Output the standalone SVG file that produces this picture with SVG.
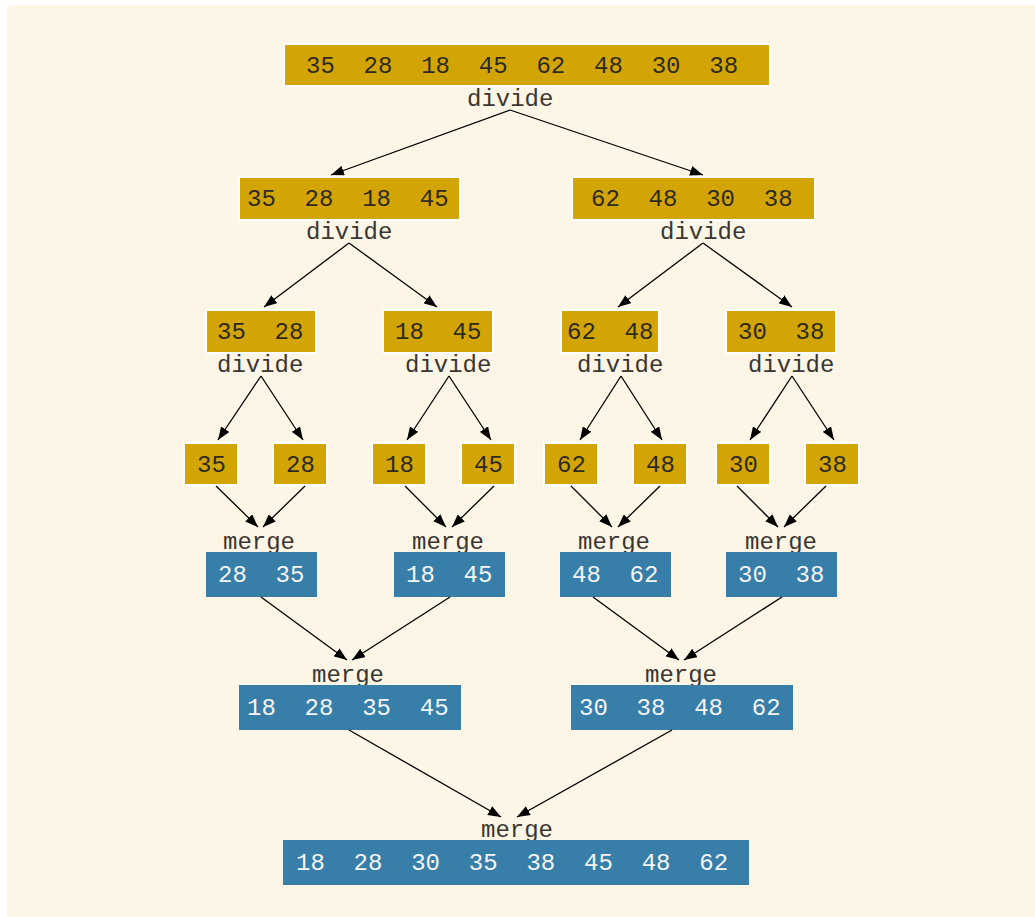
<svg xmlns="http://www.w3.org/2000/svg" width="1035" height="917" viewBox="0 0 1035 917" xml:space="preserve">
<style>
.bg{fill:#FDF5E5}
.g{fill:#D2A505;stroke:#FFFFFF;stroke-width:2}
.b{fill:#377EA9}
.t{font-family:"Liberation Mono","Courier New",monospace;font-size:24px;white-space:pre}
.tg{fill:#2E2A22}
.tb{fill:#F4F4F4}
.lb{fill:#3A3631}
.c line{stroke:#000;stroke-width:1.3;marker-end:url(#ah)}
</style>
<defs>
<marker id="ah" markerUnits="userSpaceOnUse" markerWidth="14" markerHeight="10" refX="13" refY="5" orient="auto">
<path d="M0,0 L13,5 L0,10 Z" fill="#000"/>
</marker>
</defs>
<rect x="0" y="0" width="1035" height="917" fill="#FFFFFF"/>
<rect class="bg" x="7" y="5" width="1028" height="912"/>

<g id="n0"><rect class="g" x="284" y="44" width="486" height="42"/><text class="t tg" x="306" y="73">35  28  18  45  62  48  30  38</text><text class="t lb" x="467" y="106">divide</text></g>

<g id="n1a"><rect class="g" x="239" y="177" width="221" height="43"/><text class="t tg" x="247" y="206">35  28  18  45</text><text class="t lb" x="306" y="239">divide</text></g>
<g id="n1b"><rect class="g" x="572" y="177" width="243" height="43"/><text class="t tg" x="591" y="206">62  48  30  38</text><text class="t lb" x="660" y="239">divide</text></g>

<g id="n2a"><rect class="g" x="206" y="310" width="110" height="43"/><text class="t tg" x="217" y="339">35  28</text><text class="t lb" x="217" y="372">divide</text></g>
<g id="n2b"><rect class="g" x="383" y="310" width="110" height="43"/><text class="t tg" x="395" y="339">18  45</text><text class="t lb" x="405" y="372">divide</text></g>
<g id="n2c"><rect class="g" x="561" y="310" width="98" height="43"/><text class="t tg" x="567" y="339">62  48</text><text class="t lb" x="577" y="372">divide</text></g>
<g id="n2d"><rect class="g" x="726" y="310" width="110" height="43"/><text class="t tg" x="738" y="339">30  38</text><text class="t lb" x="748" y="372">divide</text></g>

<g id="n3a"><rect class="g" x="184" y="443" width="54" height="42"/><text class="t tg" x="197" y="472">35</text></g>
<g id="n3b"><rect class="g" x="273" y="443" width="54" height="42"/><text class="t tg" x="286" y="472">28</text></g>
<g id="n3c"><rect class="g" x="372" y="443" width="54" height="42"/><text class="t tg" x="385" y="472">18</text></g>
<g id="n3d"><rect class="g" x="461" y="443" width="54" height="42"/><text class="t tg" x="474" y="472">45</text></g>
<g id="n3e"><rect class="g" x="544" y="443" width="54" height="42"/><text class="t tg" x="557" y="472">62</text></g>
<g id="n3f"><rect class="g" x="633" y="443" width="54" height="42"/><text class="t tg" x="646" y="472">48</text></g>
<g id="n3g"><rect class="g" x="716" y="443" width="54" height="42"/><text class="t tg" x="729" y="472">30</text></g>
<g id="n3h"><rect class="g" x="805" y="443" width="54" height="42"/><text class="t tg" x="818" y="472">38</text></g>

<g id="m1a"><text class="t lb" x="223" y="549">merge</text><rect class="b" x="206" y="552" width="111" height="45"/><text class="t tb" x="218" y="582">28  35</text></g>
<g id="m1b"><text class="t lb" x="412" y="549">merge</text><rect class="b" x="394" y="552" width="111" height="45"/><text class="t tb" x="406" y="582">18  45</text></g>
<g id="m1c"><text class="t lb" x="578" y="549">merge</text><rect class="b" x="560" y="552" width="111" height="45"/><text class="t tb" x="572" y="582">48  62</text></g>
<g id="m1d"><text class="t lb" x="745" y="549">merge</text><rect class="b" x="726" y="552" width="111" height="45"/><text class="t tb" x="738" y="582">30  38</text></g>

<g id="m2a"><text class="t lb" x="312" y="682">merge</text><rect class="b" x="239" y="685" width="222" height="45"/><text class="t tb" x="247" y="715">18  28  35  45</text></g>
<g id="m2b"><text class="t lb" x="645" y="682">merge</text><rect class="b" x="571" y="685" width="222" height="45"/><text class="t tb" x="579" y="715">30  38  48  62</text></g>

<g id="m3"><text class="t lb" x="481" y="837">merge</text><rect class="b" x="283" y="840" width="466" height="45"/><text class="t tb" x="296" y="870">18  28  30  35  38  45  48  62</text></g>

<g id="connectors" class="c">
<line x1="510" y1="110" x2="331" y2="175"/>
<line x1="510" y1="110" x2="703" y2="175"/>
<line x1="349" y1="243" x2="264" y2="307"/>
<line x1="349" y1="243" x2="437" y2="307"/>
<line x1="703" y1="243" x2="618" y2="307"/>
<line x1="703" y1="243" x2="792" y2="307"/>
<line x1="261" y1="376" x2="218" y2="440"/>
<line x1="261" y1="376" x2="303" y2="440"/>
<line x1="449" y1="376" x2="407" y2="440"/>
<line x1="449" y1="376" x2="491" y2="440"/>
<line x1="621" y1="376" x2="580" y2="440"/>
<line x1="621" y1="376" x2="662" y2="440"/>
<line x1="792" y1="376" x2="750" y2="440"/>
<line x1="792" y1="376" x2="834" y2="440"/>
<line x1="216" y1="486" x2="258" y2="527"/>
<line x1="305" y1="486" x2="263" y2="527"/>
<line x1="405" y1="486" x2="446" y2="527"/>
<line x1="494" y1="486" x2="452" y2="527"/>
<line x1="571" y1="486" x2="612" y2="527"/>
<line x1="660" y1="486" x2="618" y2="527"/>
<line x1="737" y1="486" x2="778" y2="527"/>
<line x1="826" y1="486" x2="784" y2="527"/>
<line x1="261" y1="597" x2="347" y2="660"/>
<line x1="450" y1="597" x2="352" y2="660"/>
<line x1="593" y1="597" x2="679" y2="660"/>
<line x1="782" y1="597" x2="684" y2="660"/>
<line x1="349" y1="730" x2="501" y2="817"/>
<line x1="672" y1="730" x2="517" y2="817"/>
</g>
</svg>
